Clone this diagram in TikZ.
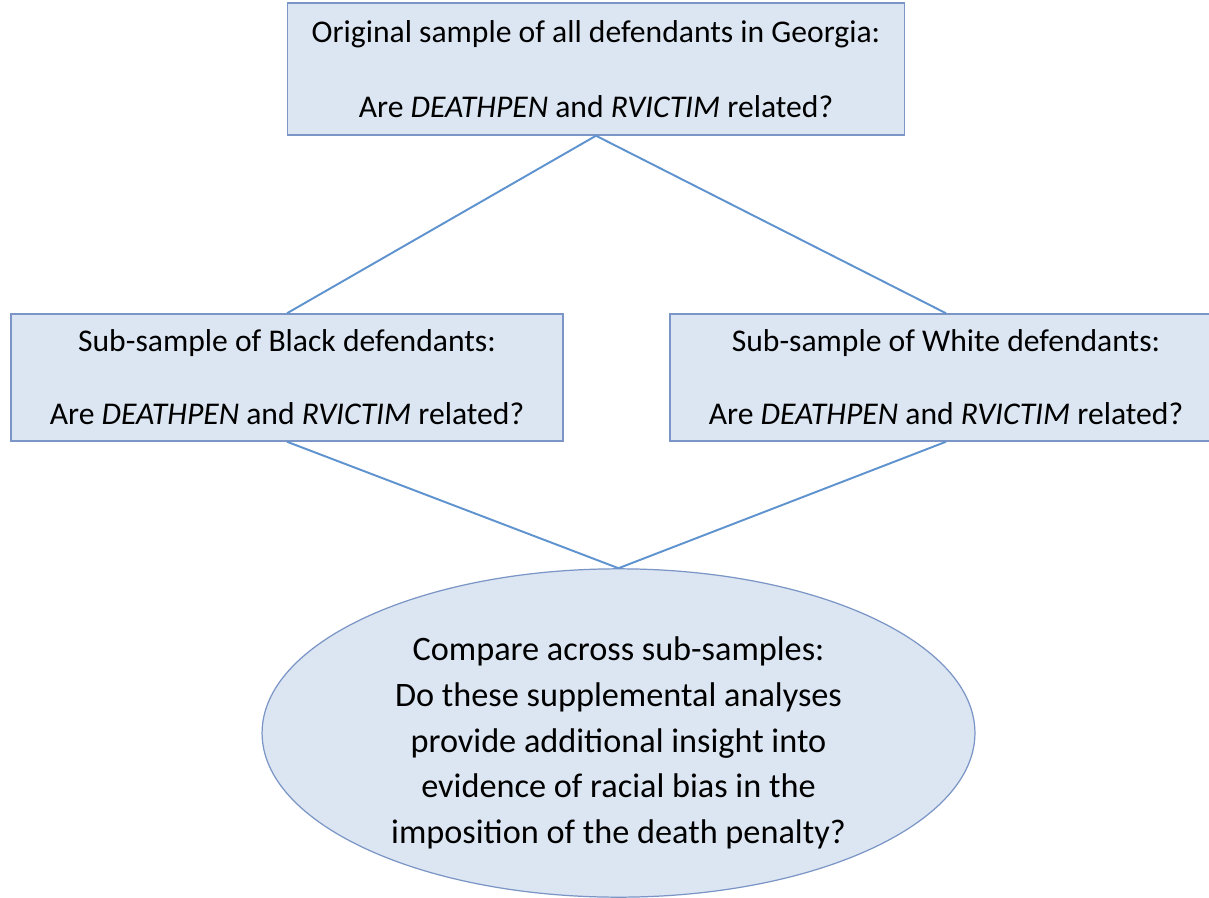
\documentclass[tikz,border=0pt]{standalone}
\usepackage{fontspec}
\setmainfont{Carlito}
\usepackage{xcolor}
\usepackage{tikz}
\usetikzlibrary{shapes.geometric}
\definecolor{boxFill}{HTML}{DCE6F2}
\definecolor{boxEdge}{HTML}{7B96C6}
\definecolor{linkColor}{HTML}{5F93CF}

\tikzset{
    samplebox/.style={draw=boxEdge, fill=boxFill, line width=0.85pt, inner sep=0pt,
        align=center, font=\fontsize{18}{21.5}\selectfont},
    comparebox/.style={ellipse, draw=boxEdge, fill=boxFill, line width=0.7pt, inner sep=0pt,
        align=center, font=\fontsize{19.5}{26}\selectfont},
    link/.style={linkColor, line width=1.1pt}
}

\begin{document}
\begin{tikzpicture}[x=0.02cm, y=-0.02cm]
    \clip (0,0) rectangle (1209,898);
    \fill[white] (0,0) rectangle (1209,898);
    % samples
    \node[samplebox, minimum width=12.34cm, minimum height=2.64cm] (orig) at (596,69)
        {Original sample of all defendants in Georgia:\\[21pt]
         Are \textit{DEATHPEN} and \textit{RVICTIM} related?};
    \node[samplebox, minimum width=11.04cm, minimum height=2.54cm] (black) at (287,377.5)
        {Sub-sample of Black defendants:\\[20pt]
         Are \textit{DEATHPEN} and \textit{RVICTIM} related?};
    \node[samplebox, minimum width=11.04cm, minimum height=2.54cm] (white) at (946,377.5)
        {Sub-sample of White defendants:\\[20pt]
         Are \textit{DEATHPEN} and \textit{RVICTIM} related?};
    % comparison
    \node[comparebox, minimum width=14.26cm, minimum height=6.56cm] (compare) at (618.5,733)
        {\rule{0pt}{25pt}Compare across sub-samples:\\
         Do these supplemental analyses\\
         provide additional insight into\\
         evidence of racial bias in the\\
         imposition of the death penalty?};
    \draw[link] (orig.south) -- (black.north);
    \draw[link] (orig.south) -- (white.north);
    \draw[link] (black.south) -- (compare.north);
    \draw[link] (white.south) -- (compare.north);
\end{tikzpicture}
\end{document}
